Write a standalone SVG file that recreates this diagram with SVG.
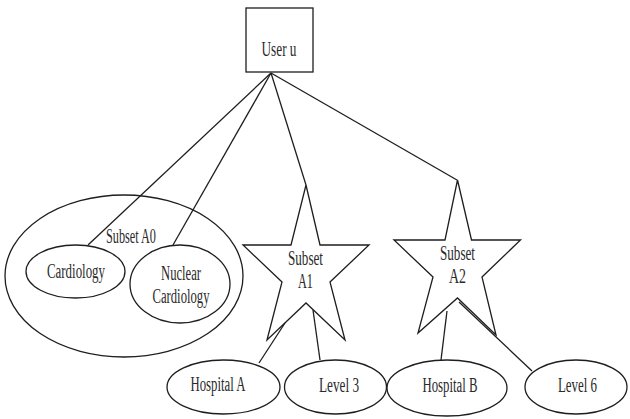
<svg xmlns="http://www.w3.org/2000/svg" width="630" height="419" viewBox="0 0 630 419">
<style>
.s{fill:none;stroke:#1e1e1e;stroke-width:1.3}
.w{fill:#fff;stroke:#1e1e1e;stroke-width:1.3}
text{font-family:"Liberation Serif","Times New Roman",serif;font-size:20px;fill:#2a2a2a;text-anchor:middle}
</style>
<rect width="630" height="419" fill="#fff"/>
<g id="subset-a0">
<ellipse class="w" cx="124" cy="276" rx="119" ry="81"/>
<text x="131" y="243" textLength="50" lengthAdjust="spacingAndGlyphs">Subset A0</text>
</g>
<g id="connectors">
<line class="s" x1="271" y1="73" x2="88" y2="245"/>
<line class="s" x1="271" y1="73" x2="173" y2="245"/>
<line class="s" x1="271" y1="73" x2="306" y2="185"/>
<line class="s" x1="271" y1="73" x2="457" y2="180"/>
<line class="s" x1="285" y1="323" x2="259" y2="363"/>
<line class="s" x1="313" y1="310" x2="320" y2="360"/>
<line class="s" x1="447" y1="311" x2="441" y2="360"/>
<line class="s" x1="459" y1="302" x2="532" y2="371"/>
</g>
<g id="user-u">
<rect class="w" x="246" y="8" width="67" height="64"/>
<text x="279" y="56" textLength="35" lengthAdjust="spacingAndGlyphs">User u</text>
</g>
<g id="cardiology">
<ellipse class="w" cx="75.5" cy="271.5" rx="49.5" ry="26.5"/>
<text x="76" y="278" textLength="58" lengthAdjust="spacingAndGlyphs">Cardiology</text>
</g>
<g id="nuclear-cardiology">
<ellipse class="w" cx="180" cy="284" rx="50" ry="39"/>
<text x="181" y="280" textLength="40" lengthAdjust="spacingAndGlyphs">Nuclear</text>
<text x="181" y="303" textLength="57" lengthAdjust="spacingAndGlyphs">Cardiology</text>
</g>
<g id="subset-a1">
<polygon class="s" points="306,185 320,245 369,245 330,282 345,340 306,303 267,340 282,282 243,245 291,245"/>
<text x="305.5" y="265" textLength="35" lengthAdjust="spacingAndGlyphs">Subset</text>
<text x="305.5" y="288" textLength="15" lengthAdjust="spacingAndGlyphs">A1</text>
</g>
<g id="subset-a2">
<polygon class="s" points="457.5,180 471.5,240 520.5,240 482,277 496,335 457.5,298 418,333 433,277 394,240 445,240"/>
<text x="457.5" y="260" textLength="35" lengthAdjust="spacingAndGlyphs">Subset</text>
<text x="457.5" y="283" textLength="17" lengthAdjust="spacingAndGlyphs">A2</text>
</g>
<g id="hospital-a">
<ellipse class="w" cx="223.5" cy="387" rx="56.5" ry="27"/>
<text x="218" y="391" textLength="55" lengthAdjust="spacingAndGlyphs">Hospital A</text>
</g>
<g id="level-3">
<ellipse class="w" cx="335.5" cy="387" rx="51" ry="27"/>
<text x="339" y="391.5" textLength="40" lengthAdjust="spacingAndGlyphs">Level 3</text>
</g>
<g id="hospital-b">
<ellipse class="w" cx="447" cy="388" rx="60" ry="28"/>
<text x="450" y="391.5" textLength="55" lengthAdjust="spacingAndGlyphs">Hospital B</text>
</g>
<g id="level-6">
<ellipse class="w" cx="576" cy="387" rx="51" ry="27"/>
<text x="577.5" y="391.5" textLength="39" lengthAdjust="spacingAndGlyphs">Level 6</text>
</g>
</svg>
